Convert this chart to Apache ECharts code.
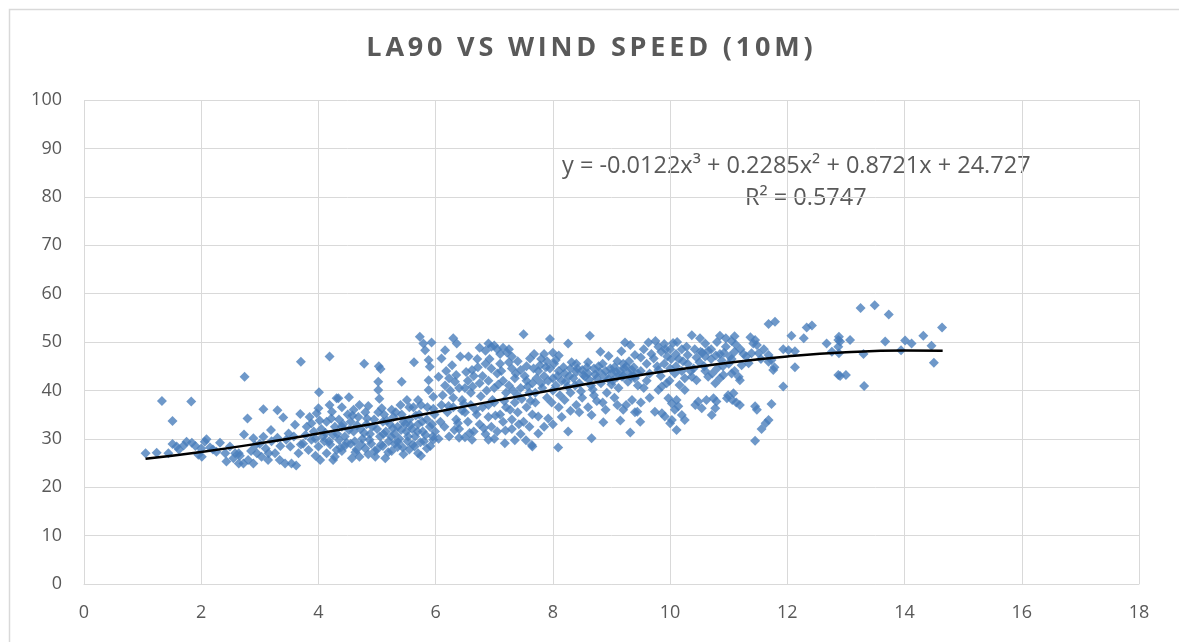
<!DOCTYPE html>
<html>
<head>
<meta charset="utf-8">
<script src="https://cdn.jsdelivr.net/npm/echarts@6/dist/echarts.min.js"></script>
<style>html,body{margin:0;padding:0;background:#fff;}#c{width:1179px;height:642px;}</style>
</head>
<body>
<div id="c"></div>
<script>
// Scatter points: wind speed (m/s) and LA90 (dB)
const windSpeed = [
1.05,1.24,1.33,1.44,1.51,1.51,1.58,1.62,1.75,1.84,1.83,1.95,2.01,2.06,2.09,2.15,2.26,2.32,2.41,2.43,2.49,2.58,2.64,2.66,1.9,2.0,2.2,1.7,2.55,
2.74,3.70,4.19,4.01,2.79,3.06,2.73,2.89,3.06,3.19,3.40,3.69,3.60,3.49,3.80,3.88,3.97,4.00,4.19,4.23,4.31,4.14,4.25,2.64,2.72,2.80,2.89,2.95,3.03,3.14,3.26,3.34,3.43,3.54,3.52,3.66,3.74,3.83,3.88,4.00,4.03,4.14,4.25,4.31,2.92,3.1,3.2,3.3,3.35,3.45,3.58,3.62,3.7,3.78,3.92,4.05,4.1,4.2,3.0,2.85,3.15,3.95,4.08,4.28,3.3,3.85,
4.78,5.06,5.03,5.63,5.73,5.79,5.93,5.82,5.88,5.90,5.42,5.02,5.02,5.04,5.08,4.34,4.52,5.88,5.88,5.96,5.51,5.70,5.75,5.96,
4.35,4.4,4.45,4.5,4.55,4.6,4.62,4.68,4.72,4.75,4.8,4.82,4.88,4.9,4.95,5.0,5.05,5.1,5.12,5.15,5.2,5.22,5.28,5.3,5.35,5.38,5.42,5.45,5.5,5.52,5.55,5.6,5.62,5.65,5.7,5.72,5.78,5.8,5.85,5.9,5.95,5.98,4.4,4.6,4.7,4.85,5.25,5.4,5.55,
4.28,4.57,4.70,4.97,5.14,5.70,5.64,5.96,4.4,4.45,4.65,4.8,4.85,5.0,5.1,5.25,5.35,5.45,5.55,5.75,5.85,4.55,4.35,5.3,
7.50,6.30,6.36,6.16,6.10,6.90,6.95,6.85,7.05,7.15,7.25,7.1,6.56,7.61,7.68,6.62,6.72,6.85,6.95,7.1,7.25,7.3,7.45,7.55,6.05,6.23,6.16,6.25,6.4,6.5,6.3,6.45,6.6,6.75,6.8,6.9,7.0,7.05,7.15,7.25,7.35,7.45,7.55,7.65,6.55,6.65,7.2,7.4,7.6,
6.1,6.2,6.3,6.35,6.5,6.55,6.6,6.7,6.75,6.8,6.9,6.95,7.0,7.1,7.15,7.2,7.3,7.35,7.4,7.5,7.55,7.65,7.7,6.4,6.65,6.85,7.05,7.3,7.45,7.6,
7.18,7.64,7.54,6.62,6.90,7.19,6.23,6.32,6.40,6.05,6.15,7.0,6.5,7.35,
7.95,8.63,8.26,9.23,9.32,8.81,8.95,9.17,9.40,7.85,8.0,8.1,7.8,7.9,8.05,
7.75,7.85,7.95,8.0,8.1,8.15,8.2,8.3,8.35,8.4,8.45,8.5,8.55,8.6,8.7,8.75,8.8,8.9,8.95,9.0,9.05,9.1,9.15,9.2,9.25,9.3,9.35,9.4,7.8,8.05,8.25,8.65,9.0,9.2,8.4,8.6,8.85,9.1,9.3,
7.7,7.9,8.0,8.2,8.3,8.4,8.5,8.6,8.7,8.85,8.9,9.05,9.1,9.2,9.35,9.4,8.1,8.3,
7.75,7.92,7.75,8.26,8.66,8.66,8.86,9.15,9.32,8.09,7.65,8.0,7.85,
9.63,9.75,9.8,9.9,10.0,10.05,10.1,9.95,9.85,10.15,10.37,10.51,10.60,10.42,10.55,10.7,10.8,10.85,10.95,11.05,10.95,10.85,10.7,10.6,10.3,10.2,11.1,11.05,9.72,9.6,9.5,9.9,10.1,10.3,10.5,10.9,11.0,9.38,9.5,9.65,9.8,10.0,10.2,10.4,10.6,10.8,
10.37,10.45,9.84,9.99,9.80,9.86,9.94,10.16,10.25,10.77,10.85,10.91,11.05,11.1,10.99,11.08,11.13,9.97,10.03,10.11,10.08,10.14,10.20,10.25,9.74,9.86,9.91,10.0,10.03,9.49,9.44,10.11,10.43,10.48,10.54,10.62,10.74,10.77,10.71,10.79,10.97,9.55,9.6,9.5,9.65,
11.68,11.79,12.33,12.42,12.07,12.28,11.37,11.45,11.48,11.42,11.2,11.1,11.25,11.39,11.51,11.68,11.34,11.22,11.68,11.73,11.93,12.02,12.13,12.13,11.76,11.78,12.67,12.76,12.87,12.87,12.87,11.19,11.17,11.93,11.06,11.19,11.45,11.48,11.73,11.68,11.63,11.56,11.45,11.3,11.55,11.6,
13.25,13.49,13.73,14.64,12.88,12.90,13.07,13.67,14.01,14.12,14.32,14.46,12.88,13.30,13.94,14.50,12.90,13.00,13.31,
3.95,4.02,4.12,4.18,4.22,4.32,4.38,4.42,4.48,4.52,4.58,4.63,4.66,4.73,4.78,4.83,4.87,4.92,4.96,5.02,5.07,5.11,5.17,5.19,5.24,5.27,5.32,5.36,5.41,5.44,5.48,5.53,5.57,5.61,5.66,5.69,5.74,5.77,5.83,5.86,5.91,5.94,5.99,
6.08,6.12,6.18,6.22,6.28,6.33,6.38,6.42,6.48,6.52,6.58,6.63,6.68,6.71,6.77,6.82,6.87,6.92,6.97,7.02,7.07,7.12,7.17,7.22,7.27,7.32,7.37,7.42,7.47,7.52,7.57,7.62,7.67,6.35,6.75,7.0,7.3,6.45,6.9,7.4,
7.72,7.78,7.82,7.88,7.92,7.98,8.02,8.08,8.12,8.18,8.22,8.28,8.32,8.38,8.42,8.48,8.52,8.58,8.62,8.68,8.72,8.78,8.82,8.88,8.92,8.98,9.02,9.08,9.12,9.18,9.22,9.28,9.33,9.38,9.45,9.45,8.15,8.45,8.75,9.25,
9.55,9.68,9.78,9.92,10.02,10.08,10.22,10.28,10.35,10.45,10.52,10.58,10.65,10.72,10.78,10.88,10.92,11.02,11.12,10.12,10.25,10.65
];
const la90 = [
27.0,27.1,37.8,27.0,33.7,28.9,28.4,27.8,29.4,29.2,37.7,26.7,26.3,29.4,29.9,28.2,27.3,29.2,27.0,25.3,28.4,27.0,24.9,26.5,28.5,28.0,27.8,28.6,26.0,
42.8,45.9,47.0,39.6,34.2,36.1,30.9,30.1,30.4,31.8,34.4,35.1,32.9,31.1,32.5,33.2,35.3,36.3,37.0,35.6,38.4,33.5,30.8,27.0,24.9,25.6,24.9,27.0,26.3,25.6,27.0,25.6,24.9,24.9,28.4,27.0,29.0,27.7,29.8,28.4,25.6,27.0,25.6,27.7,28.6,28.0,29.5,30.2,28.5,29.8,30.5,24.5,28.8,30.8,31.5,32.0,29.5,28.8,29.0,27.5,27.0,26.5,30.5,32.5,35.9,34.5,
45.5,44.4,45.0,45.8,51.1,49.7,49.9,48.3,46.3,44.9,41.8,41.8,40.1,38.3,36.3,38.4,38.6,42.1,40.1,38.7,38.0,38.0,37.0,36.2,
34.0,32.5,30.5,35.0,33.5,31.5,29.5,34.5,32.0,30.0,35.5,33.0,31.0,29.0,34.0,32.0,30.5,33.5,35.0,31.5,29.5,33.0,34.5,31.0,32.5,30.0,35.0,33.5,31.5,29.5,34.0,32.0,36.5,30.5,33.0,35.0,31.5,29.5,34.0,32.5,30.5,35.0,36.5,36.0,37.0,36.8,36.0,37.0,36.5,
26.3,26.0,26.3,26.3,26.0,27.0,28.4,29.8,27.5,28.5,27.8,28.0,26.8,27.8,28.5,27.5,28.3,26.8,27.8,26.5,28.0,29.0,29.8,29.0,
51.6,50.8,49.7,48.3,46.6,49.7,49.0,48.2,48.5,48.8,48.5,47.5,47.0,46.6,47.5,44.2,44.8,45.5,44.5,45.5,45.8,44.5,44.2,45.0,42.8,42.5,41.0,40.0,40.5,40.5,38.5,38.0,39.5,41.5,43.0,42.0,40.5,43.5,42.0,41.0,42.5,40.5,42.0,41.5,42.0,43.0,39.5,39.0,39.5,
37.0,35.5,36.5,34.0,35.5,33.5,37.0,35.0,33.0,36.5,34.5,32.5,37.5,35.0,33.5,36.5,34.0,37.5,35.5,33.5,36.5,35.0,37.5,32.0,31.5,31.0,31.5,32.0,31.0,32.5,
29.1,28.7,29.7,29.8,29.8,31.7,30.5,31.8,30.2,30.0,32.5,30.0,30.3,29.7,
50.6,51.3,49.7,49.9,49.4,48.0,47.1,48.1,47.3,47.5,47.8,47.2,46.5,46.0,46.3,
44.0,43.0,44.5,42.5,44.0,42.0,43.5,44.5,42.5,43.8,41.5,44.2,42.8,43.5,44.5,42.5,43.8,44.0,42.3,43.5,44.8,42.8,44.0,43.0,45.0,43.5,44.2,42.5,41.5,41.0,40.8,41.0,41.2,45.5,45.5,45.8,45.5,46.0,46.0,
39.5,38.5,40.0,38.0,39.5,37.0,38.5,36.5,39.0,37.5,36.0,38.5,37.0,36.0,38.0,35.5,36.5,35.8,
34.6,34.2,31.1,31.5,34.9,30.1,33.4,33.8,31.3,28.2,28.4,33.0,32.5,
49.9,50.2,49.0,49.6,48.5,49.8,47.5,47.0,48.0,46.5,51.4,50.8,49.7,48.5,47.8,48.5,50.0,51.3,50.8,50.2,49.0,47.5,46.5,47.0,47.3,48.5,48.0,46.5,46.6,45.5,46.8,45.5,45.0,45.5,45.8,45.0,45.5,43.0,44.0,43.5,44.2,44.5,44.0,44.5,44.0,44.5,
42.8,42.1,43.0,42.0,40.1,40.8,41.5,41.1,40.1,41.5,42.5,43.2,43.5,44.0,39.0,39.4,37.5,38.4,37.3,38.0,36.0,36.7,34.9,33.9,35.6,35.3,34.6,33.2,33.9,33.5,35.6,31.8,37.0,37.7,36.3,38.0,38.4,36.3,34.9,37.7,38.4,40.5,42.0,37.5,38.5,
53.7,54.2,53.0,53.4,51.3,50.8,51.0,50.4,49.4,49.7,48.5,51.2,47.5,47.7,47.7,47.3,45.6,45.2,45.9,46.3,48.5,48.3,48.1,44.8,44.2,44.8,49.7,48.0,50.4,49.0,43.2,42.1,42.8,40.8,38.0,37.0,36.7,36.0,37.2,33.9,33.2,32.0,29.6,47.0,46.5,48.5,
57.0,57.6,55.7,53.0,51.1,50.1,50.4,50.1,50.3,49.7,51.3,49.2,47.7,47.5,48.3,45.7,43.0,43.2,40.9,
30.0,33.8,31.2,29.5,34.2,31.0,28.2,33.0,29.2,31.8,34.8,27.2,32.8,28.8,31.2,34.2,29.8,32.5,27.5,35.5,28.8,31.0,33.8,27.2,30.5,32.2,35.5,29.3,31.8,28.2,33.0,30.5,32.8,28.8,34.8,31.5,29.3,33.5,30.8,36.5,28.5,33.0,31.5,
33.5,39.0,44.0,36.8,45.2,41.8,33.2,47.0,37.2,43.8,31.2,40.8,36.0,46.5,38.8,32.2,40.0,46.5,38.0,34.8,41.2,44.0,37.8,47.8,36.0,40.0,43.5,33.0,38.2,43.0,40.8,37.8,44.5,43.2,48.8,49.3,47.0,35.8,37.0,46.0,
42.5,45.2,40.5,44.8,42.0,37.5,45.5,43.0,39.0,44.8,41.8,43.0,45.8,41.0,44.5,39.8,43.2,44.8,42.2,40.2,43.3,45.0,41.5,42.8,39.5,44.5,42.0,43.8,40.5,42.8,44.5,41.8,42.8,44.8,43.5,41.0,34.5,35.5,37.8,37.0,
48.5,47.5,45.0,48.5,46.5,43.5,46.0,49.0,44.0,46.8,48.0,45.0,48.2,43.5,47.2,46.2,47.8,47.0,49.5,50.0,42.5,42.8
];
// Polynomial trendline (order 3) values
const trendX = [1.05,2,3,4,5,6,7,8,9,10,11,12,13,14,14.65];
const trendY = [25.88,27.29,29.07,31.09,33.28,35.55,37.84,40.08,42.19,44.10,45.73,47.01,47.88,48.25,48.18];
const xTicks = {min:0, max:18, interval:2};
const yTicks = {min:0, max:100, interval:10};
const titleText = 'LA90 VS WIND SPEED (10M)';
const eqText = 'y = -0.0122x³ + 0.2285x² + 0.8721x + 24.727';
const r2Text = 'R² = 0.5747';

const pts = windSpeed.map((x,i)=>[x, la90[i]]);
const trend = trendX.map((x,i)=>[x, trendY[i]]);

// letter-spaced title via rich text segments
const titleRich = titleText.split('').map(c => '{s|' + c + '}').join('');

const chart = echarts.init(document.getElementById('c'), null, {renderer:'canvas'});
const grey = '#595959';
const font = '"Open Sans", "Liberation Sans", sans-serif';
chart.setOption({
  animation:false,
  backgroundColor:'#fff',
  title:{
    text:titleRich, left:'center', top:30,
    textStyle:{
      fontFamily:font, fontSize:27, fontWeight:'bold', color:grey,
      rich:{s:{fontFamily:font, fontSize:27, fontWeight:'bold', color:grey, padding:[0,1.9,0,1.9]}}
    }
  },
  grid:{left:84, right:40, top:100, bottom:58, containLabel:false},
  xAxis:{
    type:'value', min:xTicks.min, max:xTicks.max, interval:xTicks.interval,
    axisLine:{show:true, lineStyle:{color:'#d9d9d9', width:1}},
    axisTick:{show:false},
    splitLine:{show:true, lineStyle:{color:'#d9d9d9', width:1}},
    axisLabel:{color:grey, fontFamily:font, fontSize:18, margin:20}
  },
  yAxis:{
    type:'value', min:yTicks.min, max:yTicks.max, interval:yTicks.interval,
    axisLine:{show:false},
    axisTick:{show:false},
    splitLine:{show:true, lineStyle:{color:'#d9d9d9', width:1}},
    axisLabel:{color:grey, fontFamily:font, fontSize:18, margin:22}
  },
  series:[
    {type:'scatter', data:pts, symbol:'diamond', symbolSize:10,
     itemStyle:{color:'#4a7ebb'}, z:2},
    {type:'line', data:trend, smooth:0.5, symbol:'none',
     lineStyle:{color:'#000', width:2.5}, z:3}
  ],
  graphic:[
    {type:'rect', left:7, top:7, shape:{width:1200, height:700}, silent:true,
     style:{fill:'none', stroke:'#d9d9d9', lineWidth:1.5}, z:-10},
    {type:'text', left:562, top:154,
     style:{text:eqText, fill:grey, font:'23.5px "Open Sans", sans-serif'}},
    {type:'text', left:745, top:186,
     style:{text:r2Text, fill:grey, font:'23.5px "Open Sans", sans-serif'}}
  ]
});
</script>
</body>
</html>
